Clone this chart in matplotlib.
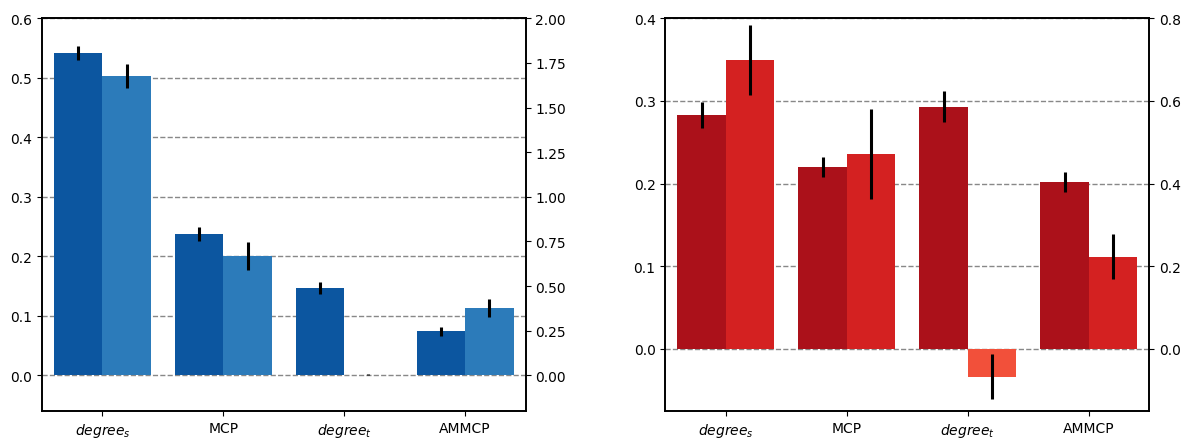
import numpy as np
import matplotlib
matplotlib.use("Agg")
import matplotlib.pyplot as plt

# categories
labels = [r"$degree_s$", "MCP", r"$degree_t$", "AMMCP"]

# left panel (blue) - left axis / right axis
blue_a = [0.542, 0.238, 0.147, 0.074]
blue_a_err = [0.012, 0.012, 0.010, 0.0075]
blue_b = [1.677, 0.670, 0.004, 0.379]
blue_b_err = [0.068, 0.079, 0.004, 0.051]

# right panel (red) - left axis / right axis
red_a = [0.283, 0.220, 0.293, 0.202]
red_a_err = [0.016, 0.0125, 0.019, 0.012]
red_b = [0.699, 0.472, -0.067, 0.223]
red_b_err = [0.085, 0.109, 0.054, 0.054]

x = np.arange(len(labels))
w = 0.4

fig = plt.figure(figsize=(11.85, 4.39), dpi=100)
ax1 = fig.add_axes([0.0354, 0.0615, 0.4082, 0.8945])
ax2 = fig.add_axes([0.5614, 0.0615, 0.4084, 0.8945])

err_kw = dict(ecolor="black", elinewidth=2.2, capsize=0)


def panel(ax, a, a_err, b, b_err, col_a, cols_b, lim_a, lim_b):
    ax.set_axisbelow(True)
    ax.yaxis.grid(True, linestyle="--", color="#888888", linewidth=1.0)
    ax.bar(x - w / 2, a, w, yerr=a_err, color=col_a, error_kw=err_kw, zorder=2)
    ax.set_ylim(*lim_a)
    ax.set_xlim(-0.5, 3.5)
    ax.set_xticks(x)
    ax.set_xticklabels(labels)
    tw = ax.twinx()
    tw.bar(x + w / 2, b, w, yerr=b_err, color=cols_b, error_kw=err_kw, zorder=2)
    tw.set_ylim(*lim_b)
    for a_ in (ax, tw):
        for s in a_.spines.values():
            s.set_linewidth(1.2)
    return tw


panel(ax1, blue_a, blue_a_err, blue_b, blue_b_err,
      "#0c56a0", ["#2c7bba", "#2c7bba", "#5aa2d6", "#2c7bba"],
      (-0.06, 0.6), (-0.2, 2.0))
panel(ax2, red_a, red_a_err, red_b, red_b_err,
      "#ab111a", ["#d42121", "#d42121", "#f2503a", "#d42121"],
      (-0.075, 0.4), (-0.15, 0.8))

fig.savefig("out.png", dpi=100)
